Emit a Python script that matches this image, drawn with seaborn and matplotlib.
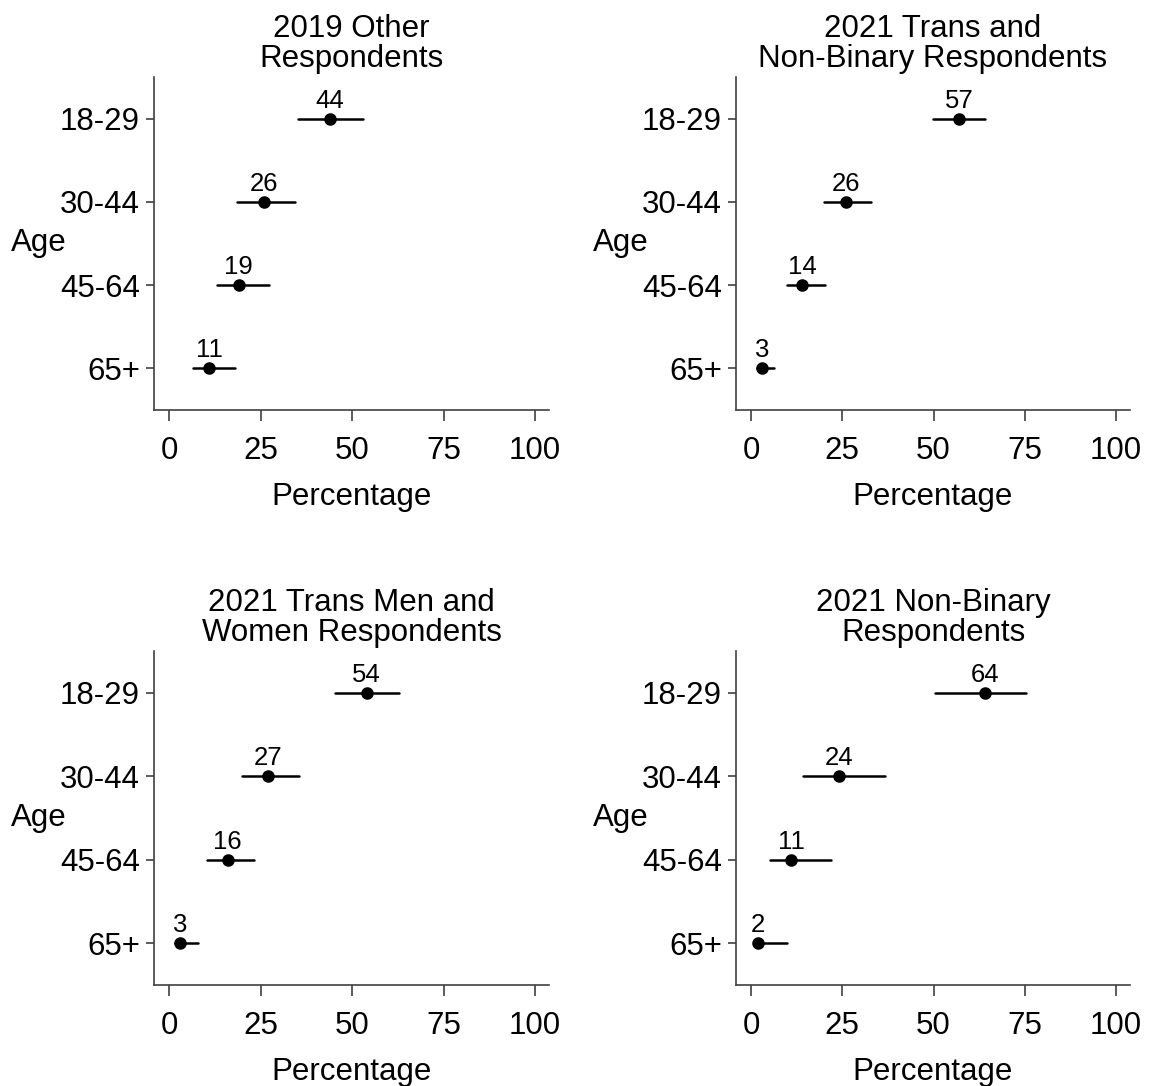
import numpy as np
import pandas as pd
import matplotlib
matplotlib.use("Agg")
import matplotlib.pyplot as plt
import seaborn as sns

ages = ["18-29", "30-44", "45-64", "65+"]
titles = ["2019 Other\nRespondents",
          "2021 Trans and\nNon-Binary Respondents",
          "2021 Trans Men and\nWomen Respondents",
          "2021 Non-Binary\nRespondents"]
estimates = [[44, 26, 19, 11],
             [57, 26, 14, 3],
             [54, 27, 16, 3],
             [64, 24, 11, 2]]
lower = [[35.3, 18.7, 13.1, 6.6],
         [49.8, 20.1, 9.9, 1.6],
         [45.4, 19.9, 10.4, 1.6],
         [50.3, 14.3, 5.1, 0.7]]
upper = [[52.9, 34.3, 27.2, 18.1],
         [64.2, 32.9, 20.2, 6.3],
         [62.8, 35.4, 23.2, 7.9],
         [75.2, 36.6, 22.0, 10.0]]
xticks = [0, 25, 50, 75, 100]

sns.set_theme(style="ticks")
plt.rcParams["font.family"] = ["Liberation Sans", "DejaVu Sans"]
plt.rcParams["text.color"] = "black"
plt.rcParams["axes.labelcolor"] = "black"
plt.rcParams["xtick.color"] = "black"
plt.rcParams["ytick.color"] = "black"
spine_col = "#404040"

fig = plt.figure(figsize=(11.5, 10.86), dpi=100)
W, H = 1150, 1086
boxes = [(154, 77, 549, 410), (736, 77, 1130, 410),
         (154, 651, 549, 985), (736, 651, 1130, 985)]
fs = 22.5

for i in range(4):
    l, t, r, b = boxes[i]
    ax = fig.add_axes([l / W, (H - b) / H, (r - l) / W, (b - t) / H])
    rows = []
    for a, lo, est, hi in zip(ages, lower[i], estimates[i], upper[i]):
        for v in (lo, est, hi):
            rows.append({"Age": a, "Percentage": v})
    df = pd.DataFrame(rows)
    sns.pointplot(data=df, x="Percentage", y="Age", order=ages,
                  estimator=np.median,
                  errorbar=lambda v: (v.min(), v.max()),
                  color="black", linestyle="none", markers="o",
                  markersize=7, err_kws={"linewidth": 1.8}, ax=ax)
    for j, (a, est) in enumerate(zip(ages, estimates[i])):
        ax.annotate(str(est), xy=(est, j), xytext=(0, 8),
                    textcoords="offset points", ha="center", va="baseline",
                    fontsize=18.5, color="black")
    ax.set_xlim(-4.1, 103.8)
    ax.set_ylim(3.5, -0.5)
    ax.set_xticks(xticks)
    ax.set_xticklabels([str(x) for x in xticks])
    ax.tick_params(axis="x", length=8, width=1.2, color=spine_col,
                   labelsize=fs, pad=11, labelcolor="black")
    ax.tick_params(axis="y", length=6, width=1.2, color=spine_col,
                   labelsize=fs, pad=4, labelcolor="black")
    for s in ("left", "bottom"):
        ax.spines[s].set_color(spine_col)
        ax.spines[s].set_linewidth(1.2)
    sns.despine(ax=ax)
    ax.set_xlabel("Percentage", fontsize=fs, labelpad=11, color="black")
    ax.set_ylabel("Age", fontsize=fs, rotation=0, ha="left", va="center",
                  color="black")
    ax.yaxis.set_label_coords(-0.362, 0.5)
    ax.set_title(titles[i], fontsize=fs, linespacing=1.0, pad=7,
                 color="black")

fig.savefig("out.png", dpi=100, facecolor="white")
